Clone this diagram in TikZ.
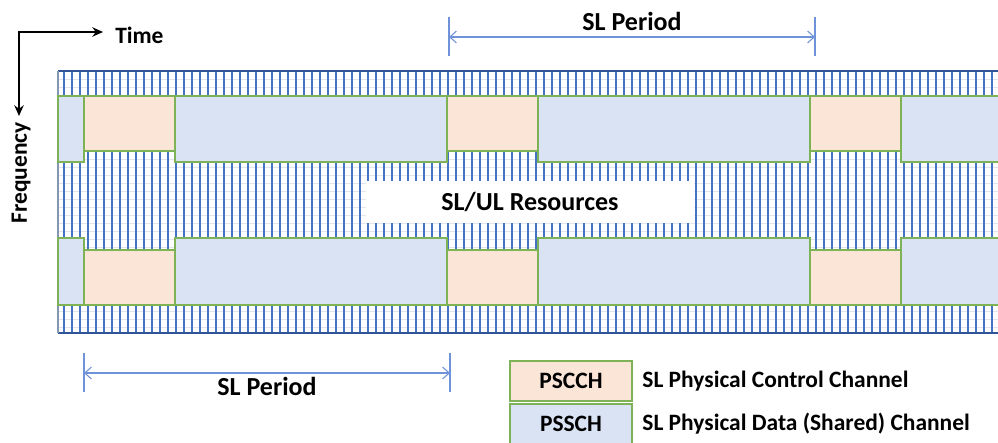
\documentclass[tikz,border=0pt]{standalone}
\usepackage{fontspec}
\setmainfont{Carlito}
\usepackage{tikz}
\usetikzlibrary{
  arrows.meta,
  positioning
}
\definecolor{gridblue}{HTML}{4472C4}
\definecolor{gridgray}{HTML}{E1E5EE}
\definecolor{griddark}{HTML}{2F5597}
\definecolor{gridleft}{HTML}{8497B0}
\definecolor{pinkfill}{HTML}{FBE5D6}
\definecolor{bluefill}{HTML}{DAE3F3}
\definecolor{greenline}{HTML}{7DB356}
\definecolor{periodblue}{HTML}{6F93D8}

\begin{document}
\begin{tikzpicture}[
      x=0.75pt,y=-0.75pt,
      pscch/.style={
         rectangle,
         draw=greenline,
         line width=1.2pt,
         fill=pinkfill
      },
      pssch/.style={
         rectangle,
         draw=greenline,
         line width=1.2pt,
         fill=bluefill
      },
      small label/.style={
         inner sep=0pt,
         font=\bfseries\fontsize{17.6}{20}\selectfont
      },
      big label/.style={
         inner sep=0pt,
         font=\bfseries\fontsize{19.5}{23}\selectfont
      },
      legend box/.style={
         minimum width=91.5pt,
         minimum height=30pt,
         small label
      },
      period/.style={draw=periodblue,line width=0.8pt},
      tick/.style={draw=periodblue,line width=1.1pt},
      tip/.style={{Straight Barb[length=5pt,width=9pt]}-{Straight Barb[length=5pt,width=9pt]}},
      axis/.style={line width=2.2pt,{Stealth[length=8pt,width=7pt]}-{Stealth[length=8pt,width=7pt]}},
      point/.style={coordinate}
    ]
    \useasboundingbox (0,0) rectangle (998,442);
    \clip (0,0) rectangle (998,442);

    % resource grid
    \fill[white] (58,71) rectangle (998,333);
    \foreach \y in {79,87,...,327}
       \draw[gridgray,line width=0.6pt] (58,\y) -- (998,\y);
    \foreach \x in {64,72,...,992}
       \draw[gridblue,line width=0.85pt] (\x,71) -- (\x,333);
    \draw[griddark,line width=1.3pt] (58,71) -- (998,71);
    \draw[griddark,line width=1.3pt] (58,333) -- (998,333);
    \draw[gridleft,line width=1.3pt] (58,71) -- (58,333);

    % sidelink pools
    \draw[pssch] (58,96) rectangle (84,162);
    \draw[pssch] (58,238) rectangle (84,305);
    \foreach \s in {84,447,810} {
       \draw[pssch] (\s+91,96) rectangle (\s+363,162);
       \draw[pscch] (\s,96) rectangle (\s+91,151);
       \draw[pssch] (\s+91,238) rectangle (\s+363,305);
       \draw[pscch] (\s,250) rectangle (\s+91,305);
    }

    \node (res) [big label, fill=white, minimum width=246pt, minimum height=31.5pt] at (530,202) {SL/UL Resources};

    % axes
    \node (orig) [point] at (19,32) {};
    \node (tend) [point] at (103,32) {};
    \node (fend) [point] at (19,116) {};
    \draw[axis] (tend) -- (orig) -- (fend);
    \node (time) [small label, anchor=west] at (115,35) {Time};
    \node (freq) [small label, rotate=90] at (21,173) {Frequency};

    % periods
    \node (t1) [point] at (449,17) {};
    \node (b1) [point] at (449,56) {};
    \node (m1) [point] at (449,37) {};
    \node (t2) [point] at (815,17) {};
    \node (b2) [point] at (815,56) {};
    \node (m2) [point] at (815,37) {};
    \draw[tick] (t1) -- (b1);
    \draw[tick] (t2) -- (b2);
    \draw[period,tip] (m1) -- (m2);
    \node (per1) [big label] at (632,21) {SL Period};

    \node (t3) [point] at (84,353) {};
    \node (b3) [point] at (84,392) {};
    \node (m3) [point] at (84,373) {};
    \node (t4) [point] at (450,353) {};
    \node (b4) [point] at (450,392) {};
    \node (m4) [point] at (450,373) {};
    \draw[tick] (t3) -- (b3);
    \draw[tick] (t4) -- (b4);
    \draw[period,tip] (m3) -- (m4);
    \node (per2) [big label] at (267,386) {SL Period};

    % legend
    \node (lc) [pscch, legend box] at (571,381) {PSCCH};
    \node (ls) [pssch, legend box] at (571,424) {PSSCH};
    \node (lct) [small label, right=7pt of lc] {SL Physical Control Channel};
    \node (lst) [small label, right=7pt of ls] {SL Physical Data (Shared) Channel};
\end{tikzpicture}
\end{document}
